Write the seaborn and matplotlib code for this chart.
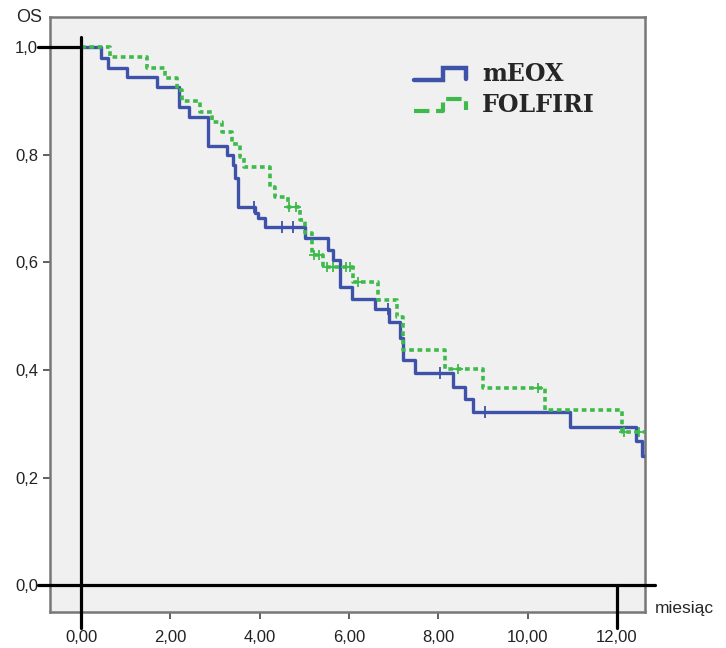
import numpy as np
import pandas as pd
import matplotlib
matplotlib.use("Agg")
import matplotlib.pyplot as plt
import seaborn as sns
from matplotlib.lines import Line2D
from matplotlib.legend_handler import HandlerBase

# krzywe Kaplana-Meiera
meox_t = [0, 0.45, 0.60, 1.03, 1.70, 2.19, 2.42, 2.84, 3.27, 3.40, 3.45, 3.51, 3.90, 3.96,
          4.12, 5.01, 5.53, 5.64, 5.80, 6.07, 6.58, 6.90, 7.14, 7.21, 7.48, 8.33, 8.60,
          8.78, 10.95, 12.42, 12.56, 12.63]
meox_s = [1.0, 0.980, 0.961, 0.944, 0.926, 0.888, 0.870, 0.816, 0.800, 0.780, 0.757, 0.703,
          0.691, 0.682, 0.665, 0.645, 0.623, 0.604, 0.554, 0.532, 0.513, 0.489, 0.460,
          0.418, 0.394, 0.368, 0.346, 0.322, 0.294, 0.268, 0.240, 0.240]
meox_cens = [3.87, 4.50, 4.75, 6.87, 8.04, 9.04]

folf_t = [0, 0.65, 1.48, 1.88, 2.15, 2.26, 2.66, 2.93, 3.16, 3.38, 3.56, 3.65, 4.23, 4.34,
          4.63, 4.90, 5.01, 5.17, 5.42, 6.09, 6.65, 7.07, 7.21, 8.15, 9.00, 10.39, 12.11, 12.63]
folf_s = [1.0, 0.981, 0.961, 0.942, 0.920, 0.900, 0.879, 0.861, 0.842, 0.820, 0.796, 0.777,
          0.740, 0.721, 0.703, 0.678, 0.654, 0.613, 0.591, 0.563, 0.530, 0.498, 0.437,
          0.401, 0.366, 0.325, 0.284, 0.284]
folf_cens = [4.66, 4.81, 5.22, 5.33, 5.50, 5.64, 5.93, 6.02, 6.20, 8.44, 10.23, 12.15, 12.50]

x_ticks = [0, 2, 4, 6, 8, 10, 12]
x_labels = ["0,00", "2,00", "4,00", "6,00", "8,00", "10,00", "12,00"]
y_ticks = [0.0, 0.2, 0.4, 0.6, 0.8, 1.0]
y_labels = ["0,0", "0,2", "0,4", "0,6", "0,8", "1,0"]

BLUE = "#3d52a8"
GREEN = "#3dba4a"
DOTS = (0, (1.3, 1.0))


def surv_at(ts, ss, tc):
    idx = np.searchsorted(ts, tc, side="right") - 1
    return np.array(ss)[idx]


class StepHandler(HandlerBase):
    def create_artists(self, legend, orig_handle, xdescent, ydescent, width, height, fontsize, trans):
        xs = np.array([0.0, 0.55, 0.55, 0.97, 0.97]) * width - xdescent
        ys = np.array([0.05, 0.05, 0.75, 0.75, 0.1]) * height - ydescent
        ln = Line2D(xs, ys, color=orig_handle.get_color(), lw=orig_handle.get_linewidth(),
                    ls=orig_handle.get_linestyle(), solid_joinstyle="miter")
        ln.set_transform(trans)
        return [ln]


sns.set_style("white")
plt.rcParams["font.family"] = ["Liberation Sans", "DejaVu Sans"]

fig = plt.figure(figsize=(7.26, 6.48), dpi=100)
ax = fig.add_axes([50 / 726, 1 - 612 / 648, 595 / 726, 595 / 648])
ax.set_facecolor("#f0f0f0")

df_m = pd.DataFrame({"t": meox_t, "S": meox_s})
df_f = pd.DataFrame({"t": folf_t, "S": folf_s})
sns.lineplot(data=df_m, x="t", y="S", ax=ax, color=BLUE, lw=2.4, drawstyle="steps-post",
             estimator=None, sort=False, zorder=3)
sns.lineplot(data=df_f, x="t", y="S", ax=ax, color=GREEN, lw=2.6, drawstyle="steps-post",
             estimator=None, sort=False, linestyle=DOTS, dash_capstyle="butt", zorder=4)

ax.plot(meox_cens, surv_at(meox_t, meox_s, meox_cens), ls="none", marker="|",
        ms=8, mew=1.3, color=BLUE, zorder=3)
ax.plot(folf_cens, surv_at(folf_t, folf_s, folf_cens), ls="none", marker="+",
        ms=7, mew=1.3, color=GREEN, zorder=4)

# czarne linie odniesienia
kw = dict(color="black", lw=2.3, clip_on=False, zorder=6)
ax.plot([-0.96, 0], [1.0, 1.0], **kw)
ax.plot([0, 0], [1.019, -0.08], **kw)
ax.plot([-0.96, 12.85], [0, 0], **kw)
ax.plot([12, 12], [0, -0.08], **kw)

ax.set_xlim(-0.694, 12.626)
ax.set_ylim(-0.050, 1.056)
ax.set_xticks(x_ticks)
ax.set_xticklabels(x_labels)
ax.set_yticks(y_ticks)
ax.set_yticklabels(y_labels)
ax.set_xlabel("")
ax.set_ylabel("")
ax.tick_params(axis="both", direction="out", length=5, width=1.2, color="#444444",
               labelsize=12, labelcolor="#222222", bottom=True, left=True)
ax.tick_params(axis="x", pad=8)
for sp in ax.spines.values():
    sp.set_color("#777777")
    sp.set_linewidth(1.8)

fig.text(16 / 726, 1 - 17 / 648, "OS", fontsize=13, va="center", ha="left")
fig.text(655 / 726, 1 - 608 / 648, "miesiąc", fontsize=12.5, va="center", ha="left")

handles = [Line2D([], [], color=BLUE, lw=3.2),
           Line2D([], [], color=GREEN, lw=3.0, ls=DOTS)]
leg = ax.legend(handles, ["mEOX", "FOLFIRI"], handler_map={Line2D: StepHandler()},
                loc="upper left", bbox_to_anchor=(397 / 726, 1 - 45 / 648),
                bbox_transform=fig.transFigure, frameon=False,
                prop={"family": "DejaVu Serif", "size": 17, "weight": "bold"},
                handlelength=2.3, handletextpad=0.6, labelspacing=0.3, borderpad=0.2)

fig.savefig("out.png", dpi=100)
